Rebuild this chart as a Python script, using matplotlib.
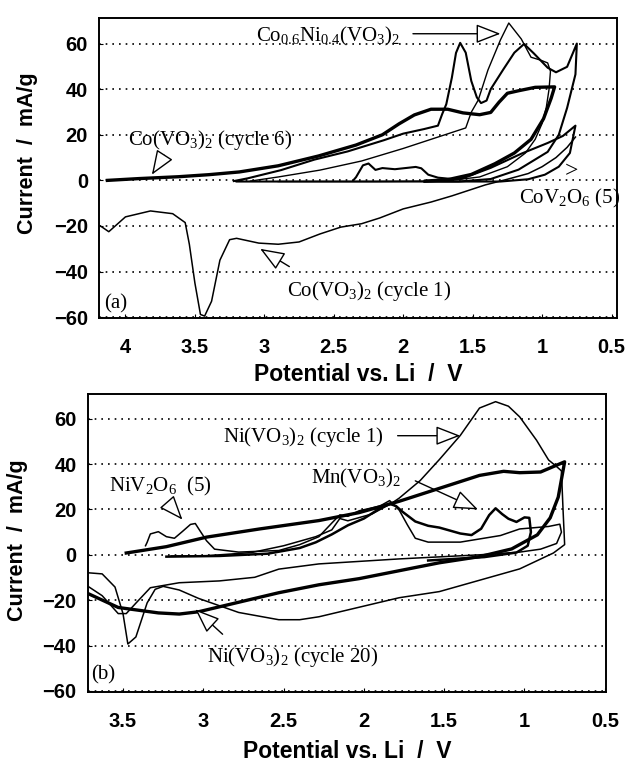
import matplotlib
matplotlib.use("Agg")
import matplotlib.pyplot as plt

# ---- panel (a) data: potential (V) vs current (mA/g) ----
a_cyc1_x = [4.18, 4.12, 4.0, 3.82, 3.66, 3.57, 3.54, 3.50, 3.46, 3.43, 3.38, 3.32, 3.25, 3.2, 3.04,
            2.9, 2.75, 2.6, 2.45, 2.3, 2.17, 2.0, 1.8, 1.65, 1.41, 1.25, 1.1, 1.0, 0.9, 0.82, 0.76]
a_cyc1_y = [-20, -22.5, -16, -13.4, -14.6, -18.5, -28, -45, -58.8, -59.5, -53, -35, -26, -25.4, -27.5,
            -28, -27, -23.5, -20.5, -19, -16.5, -12.5, -9.5, -6.8, -2, 0.5, 3, 6, 10, 14.5, 19]

a_cyc6_x = [4.13, 3.9, 3.62, 3.4, 3.18, 2.9, 2.61, 2.34, 2.15, 2.03, 1.92, 1.80, 1.68, 1.57, 1.45,
            1.37, 1.31, 1.25, 1.17, 1.05, 0.91, 0.935, 0.99, 1.08, 1.2, 1.34, 1.51, 1.68, 1.84]
a_cyc6_y = [0, 0.8, 1.6, 2.5, 3.7, 6.4, 10.7, 15.5, 20, 24.8, 28.7, 31.2, 31.2, 29.6, 28.8,
            29.8, 34.3, 38.2, 39.3, 40.8, 41, 36, 27, 18, 12, 7.3, 2.6, 0.3, -0.3]

a_coni1_x = [3.22, 3.12, 2.88, 2.64, 2.4, 2.14, 2.0, 1.85, 1.75, 1.72, 1.69, 1.65, 1.62, 1.59, 1.55,
             1.51, 1.47, 1.44, 1.40, 1.37, 1.28, 1.2, 1.13, 1.06, 0.96, 0.9, 0.82, 0.78, 0.75,
             0.76, 0.82, 0.88, 0.96, 1.17, 1.37, 1.6, 2.0, 2.6, 3.2]
a_coni1_y = [-0.3, 0.9, 4.5, 9.1, 12.7, 17.6, 20.5, 22.5, 24, 29, 33.4, 45, 55.9, 60.3, 56,
             43.6, 36.4, 33.9, 35, 40, 48.6, 56, 59.8, 55.7, 49.4, 47.4, 49.8, 55.6, 60,
             46.5, 31.8, 20, 12.5, 4.7, 0.6, -0.5, -0.5, -0.5, -0.5]

a_coni2_x = [3.1, 2.9, 2.6, 2.3, 2.0, 1.8, 1.65, 1.55, 1.51, 1.46, 1.39, 1.3, 1.24, 1.15, 1.08,
             1.01, 0.96, 0.94, 0.95, 0.97, 1.0, 1.05, 1.12, 1.25, 1.45, 1.7, 2.2, 2.9]
a_coni2_y = [-0.3, 1.5, 4.5, 8.5, 14, 18, 21, 23, 29.9, 35.2, 48.4, 61.6, 69, 62, 54,
             52.7, 51.5, 47.8, 40, 32, 25, 18, 12, 6, 1.5, -0.3, -0.5, -0.5]

a_cov_x = [2.36, 2.34, 2.29, 2.25, 2.2, 2.15, 2.06, 1.97, 1.91, 1.87, 1.82, 1.75, 1.65, 1.58,
           1.37, 1.15, 0.96, 0.85, 0.76, 0.8, 0.88, 0.98, 1.1, 1.3, 1.6, 1.85]
a_cov_y = [0, 1.4, 6.6, 7.4, 4.6, 5.4, 4.9, 5.5, 5.9, 5.3, 2.5, 1.2, 0.6, 0.7,
           5.5, 11.7, 16.4, 19.5, 24, 12, 6, 2.5, 0.5, -0.5, -0.5, -0.5]

# ---- panel (b) data ----
b_cyc20_x = [3.48, 3.23, 2.98, 2.65, 2.28, 2.03, 1.78, 1.53, 1.28, 1.13, 1.03, 0.9, 0.82, 0.75,
             0.79, 0.84, 0.92, 1.08, 1.28, 1.53, 1.78, 2.03, 2.28, 2.53, 2.78, 3.03, 3.15, 3.28,
             3.53, 3.72]
b_cyc20_y = [0.8, 3.6, 7.8, 11.4, 15.1, 18.6, 23.6, 29.3, 35, 36.8, 36.2, 36.5, 38.9, 41,
             25.4, 16.3, 8.8, 2.6, -0.8, -3.5, -7, -10.5, -13.2, -16.7, -20.9, -25.1, -26.1, -25.6,
             -23.2, -17]

b_mn_x = [3.23, 2.9, 2.6, 2.4, 2.3, 2.2, 2.1, 2.0, 1.9, 1.84, 1.8, 1.76, 1.68, 1.6, 1.53, 1.4,
          1.33, 1.27, 1.22, 1.18, 1.14, 1.1, 1.05, 1.0, 0.97, 0.96, 0.98, 1.05, 1.25, 1.6]
b_mn_y = [-0.8, -0.5, 0.5, 3, 5.5, 9, 13, 16, 20.5, 22.5, 21.5, 19, 14.7, 12.8, 12, 9.4,
          8.7, 11.5, 17.5, 20.5, 18, 15.9, 14.5, 16.5, 16.3, 10, 4, 1, -1, -2.5]

b_ni1_x = [3.72, 3.63, 3.55, 3.5, 3.47, 3.42, 3.35, 3.3, 3.25, 3.15, 3.03, 2.78, 2.53, 2.4, 2.28,
           2.03, 1.78, 1.53, 1.28, 1.03, 0.82, 0.75, 0.76, 0.77, 0.8, 0.85, 0.925, 1.03, 1.1, 1.18,
           1.28, 1.4, 1.53, 1.65, 1.78, 1.83, 1.95, 2.1, 2.15, 2.2, 2.3, 2.5, 2.7, 3.0, 3.2]
b_ni1_y = [-7.9, -8.4, -14.2, -26, -39.3, -36.2, -21.2, -15.2, -13.9, -15.5, -19.2, -25.4, -28.6,
           -28.6, -27.3, -23.1, -18.9, -16.2, -11.2, -6.2, 0.8, 4.5, 20, 37, 38.9, 41.8, 50.5, 60.8,
           65.5, 67.5, 64.7, 52.6, 42, 32.7, 25, 22.6, 18, 15, 16, 11, 8, 4, 1, -0.5, -0.5]

b_niv_x = [3.36, 3.35, 3.33, 3.28, 3.23, 3.18, 3.13, 3.08, 3.05, 3.02, 2.98, 2.93, 2.78, 2.53, 2.4,
           2.28, 2.2, 2.15, 2.1, 2.03, 1.9, 1.84, 1.78, 1.73, 1.68, 1.6, 1.4, 1.15, 1.03, 0.85,
           0.78, 0.77, 0.8, 0.9, 1.03, 1.28, 1.78, 2.28, 2.53, 2.68, 2.9, 3.15, 3.33, 3.42, 3.48,
           3.53, 3.63, 3.72]
b_niv_y = [4, 5.5, 9.2, 10.2, 8, 7.3, 10.3, 13.4, 13.8, 10.5, 6.2, 2.5, 1.2, 1.9, 4.5,
           8, 14, 17.6, 17, 19.4, 21.5, 23.9, 19.7, 13.3, 7.3, 5.6, 5.6, 8.5, 11.4, 12.5,
           13.5, 10, 5, 2.5, 1.2, 0, -1.8, -4, -6.3, -9.9, -11.5, -12.3, -14.5, -21.3, -25.9,
           -25.9, -18, -13.8]

y_ticks = [-60, -40, -20, 0, 20, 40, 60]
a_xticks = [4, 3.5, 3, 2.5, 2, 1.5, 1, 0.5]
b_xticks = [3.5, 3, 2.5, 2, 1.5, 1, 0.5]

plt.rcParams['font.family'] = ['Liberation Sans', 'DejaVu Sans']
plt.rcParams['mathtext.fontset'] = 'custom'
plt.rcParams['mathtext.rm'] = 'Liberation Serif'
plt.rcParams['mathtext.it'] = 'Liberation Serif:italic'

SERIF = 'Liberation Serif'
ARROW = dict(arrowstyle='-|>,head_length=0.9,head_width=0.35', mutation_scale=17,
             fc='white', ec='black', lw=1.0, shrinkA=0, shrinkB=0)


def setup_axes(ax, xlim, xticks, xlab_y, ylab_x, ylab_y):
    ax.set_xlim(*xlim)
    ax.set_ylim(-60.5, 71)
    ax.set_xticks(xticks)
    ax.set_xticklabels([('%g' % t) for t in xticks])
    ax.set_yticks(y_ticks)
    ax.grid(axis='y', color='black', linestyle=(0, (1, 3)), linewidth=1.2)
    ax.tick_params(axis='x', direction='in', length=3, width=0.8, pad=14, labelsize=14.5)
    ax.tick_params(axis='y', direction='in', length=3, width=0.8, pad=8, labelsize=14.5)
    for lab in ax.get_xticklabels() + ax.get_yticklabels():
        lab.set_fontweight('bold')
    for sp in ax.spines.values():
        sp.set_linewidth(1.4)
    ax.set_xlabel('Potential vs. Li  /  V', fontsize=16.5, fontweight='bold')
    ax.set_ylabel('Current  /  mA/g', fontsize=15.5, fontweight='bold')
    ax.xaxis.set_label_coords(0.5, xlab_y)
    ax.yaxis.set_label_coords(ylab_x, ylab_y)


def note(ax, txt, x, y):
    ax.text(x, y, txt, fontsize=15, family=SERIF, ha='left', va='center')


def arrow(ax, tail, head):
    ax.annotate('', xy=head, xytext=tail, arrowprops=ARROW)


fig = plt.figure(figsize=(6.31, 7.69), dpi=100)
ax1 = fig.add_axes([0.157, 0.586, 0.821, 0.390])
ax2 = fig.add_axes([0.139, 0.100, 0.822, 0.388])

# panel (a)
ax1.plot(a_cyc1_x, a_cyc1_y, color='black', lw=1.1)
ax1.plot(a_cov_x, a_cov_y, color='black', lw=1.5)
ax1.plot(a_coni2_x, a_coni2_y, color='black', lw=1.0)
ax1.plot(a_coni1_x, a_coni1_y, color='black', lw=1.5)
ax1.plot(a_cyc6_x, a_cyc6_y, color='black', lw=2.4)
setup_axes(ax1, (4.19, 0.46), a_xticks, -0.15, -0.118, 0.55)

note(ax1, r'Co$_{0.6}$Ni$_{0.4}$(VO$_3$)$_2$', 3.06, 63)
arrow(ax1, (1.93, 64.3), (1.3, 64.3))
note(ax1, r'Co(VO$_3$)$_2$ (cycle 6)', 3.98, 17.5)
arrow(ax1, (3.72, 11), (3.81, 2.5))
note(ax1, r'CoV$_2$O$_6$ (5)', 1.17, -8)
ax1.text(0.79, 4, '>', fontsize=17, family=SERIF, ha='center', va='center')
note(ax1, r'Co(VO$_3$)$_2$ (cycle 1)', 2.84, -48.5)
arrow(ax1, (2.82, -37.8), (3.03, -30))
note(ax1, '(a)', 4.15, -54)

# panel (b)
ax2.plot(b_ni1_x, b_ni1_y, color='black', lw=1.1)
ax2.plot(b_niv_x, b_niv_y, color='black', lw=1.1)
ax2.plot(b_mn_x, b_mn_y, color='black', lw=1.8)
ax2.plot(b_cyc20_x, b_cyc20_y, color='black', lw=2.4)
setup_axes(ax2, (3.72, 0.49), b_xticks, -0.16, -0.116, 0.51)

note(ax2, r'Ni(VO$_3$)$_2$ (cycle 1)', 2.88, 52)
arrow(ax2, (1.79, 52.5), (1.4, 52.5))
note(ax2, r'Mn(VO$_3$)$_2$', 2.33, 33.5)
arrow(ax2, (1.68, 32.6), (1.29, 20))
note(ax2, r'NiV$_2$O$_6$  (5)', 3.59, 30)
arrow(ax2, (3.21, 22), (3.13, 15.5))
note(ax2, r'Ni(VO$_3$)$_2$ (cycle 20)', 2.98, -45)
arrow(ax2, (2.88, -35), (3.05, -24))
note(ax2, '(b)', 3.7, -53)

fig.savefig('out.png', dpi=100)
